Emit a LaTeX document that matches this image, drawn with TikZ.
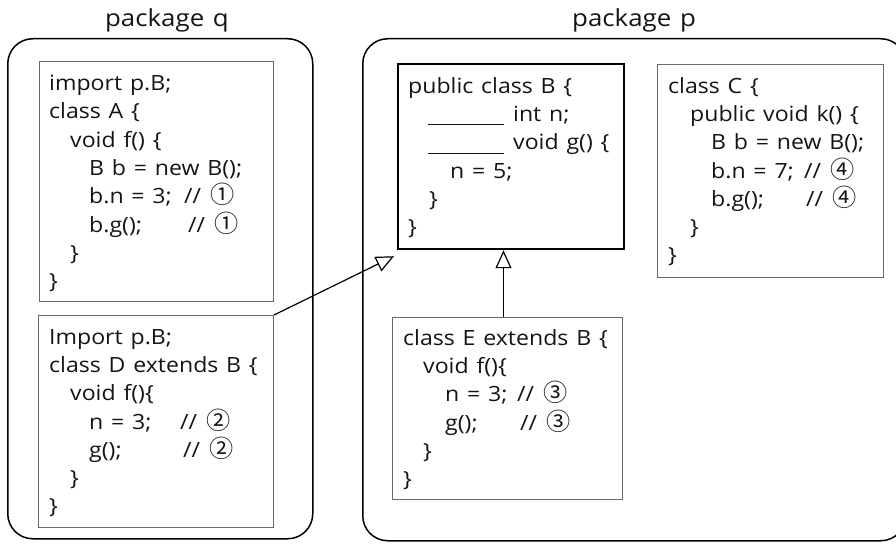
\documentclass[tikz,border=0pt]{standalone}
\usepackage{fontspec}
\setmainfont[FakeStretch=1.1,WordSpace=1.3]{Open Sans}
\newfontfamily\circfont[Scale=1.15]{Noto Sans CJK KR}
\usetikzlibrary{arrows.meta}
% circled step numbers and code-layout helpers
\newcommand{\cnum}[1]{{\circfont #1}}
\newcommand{\ind}[1]{\hspace*{#1pt}}
\newcommand{\cmt}[3]{\makebox[#1pt][l]{#2}//\hspace{9pt}\cnum{#3}}
\newcommand{\blank}{\rule[-4pt]{76pt}{1pt}\hspace{9pt}}
\definecolor{ink}{HTML}{141414}
\definecolor{edge}{HTML}{6A6A6A}
\begin{document}
\begin{tikzpicture}[x=1pt,y=-1pt,
  pkg/.style={draw=black,line width=1.5pt,rounded corners=25pt,inner sep=0pt,anchor=north west},
  cbox/.style={draw=edge,line width=1pt,inner sep=0pt,anchor=north west},
  mainbox/.style={draw=black,line width=2.2pt,inner sep=0pt,anchor=north west},
  code/.style={anchor=north west,inner sep=0pt,align=left,text=ink,
    font=\fontsize{21}{28.3}\selectfont},
  pkglabel/.style={anchor=base,inner sep=0pt,text=ink,font=\fontsize{23.5}{26}\selectfont},
  inh/.style={draw=black,line width=1.2pt,
    -{Triangle[open,length=18pt,width=16pt,fill=white]}}]
\useasboundingbox (0,0) rectangle (896,543);

% packages
\node[pkg,minimum width=305pt,minimum height=500pt] (pq) at (7,38) {};
\node[pkg,minimum width=543pt,minimum height=502pt] (pp) at (362,38) {};
\node[pkglabel] (lq) at (167,27) {package q};
\node[pkglabel] (lp) at (634,27) {package p};

% class boxes
\node[cbox,minimum width=234pt,minimum height=240pt] (A) at (39,61) {};
\node[cbox,minimum width=235pt,minimum height=212pt] (D) at (38,315) {};
\node[mainbox,minimum width=226pt,minimum height=185pt] (B) at (397,63) {};
\node[cbox,minimum width=226pt,minimum height=213pt] (C) at (657,64) {};
\node[cbox,minimum width=230pt,minimum height=182pt] (E) at (392,317) {};

% code
\node[code] (Atxt) at ([shift={(10,14)}]A.north west) {%
import p.B;\\
class A \{\\
\ind{21}void f() \{\\
\ind{40}B b = new B();\\
\ind{40}\cmt{95}{b.n = 3;}{①}\\
\ind{40}\cmt{99}{b.g();}{①}\\
\ind{21}\}\\
\}};

\node[code] (Dtxt) at ([shift={(11,14)}]D.north west) {%
Import p.B;\\
class D extends B \{\\
\ind{21}void f()\{\\
\ind{40}\cmt{91}{n = 3;}{②}\\
\ind{40}\cmt{94}{g();}{②}\\
\ind{21}\}\\
\}};

\node[code] (Btxt) at ([shift={(11,14)}]B.north west) {%
public class B \{\\
\ind{20}\blank int n;\\
\ind{20}\blank void g() \{\\
\ind{42}n = 5;\\
\ind{21}\}\\
\}};

\node[code] (Ctxt) at ([shift={(11,13)}]C.north west) {%
class C \{\\
\ind{22}public void k() \{\\
\ind{43}B b = new B();\\
\ind{43}\cmt{93}{b.n = 7;}{④}\\
\ind{43}\cmt{95}{b.g();}{④}\\
\ind{22}\}\\
\}};

\node[code] (Etxt) at ([shift={(11,12)}]E.north west) {%
class E extends B \{\\
\ind{20}void f()\{\\
\ind{42}\cmt{72}{n = 3;}{③}\\
\ind{42}\cmt{75}{g();}{③}\\
\ind{20}\}\\
\}};

% inheritance arrows
\draw[inh] (D.north east) -- ([shift={(-3,6)}]B.south west);
\draw[inh] ([xshift=-4pt]E.north) -- ([xshift=-4pt]E.north |- B.south);
\end{tikzpicture}
\end{document}
